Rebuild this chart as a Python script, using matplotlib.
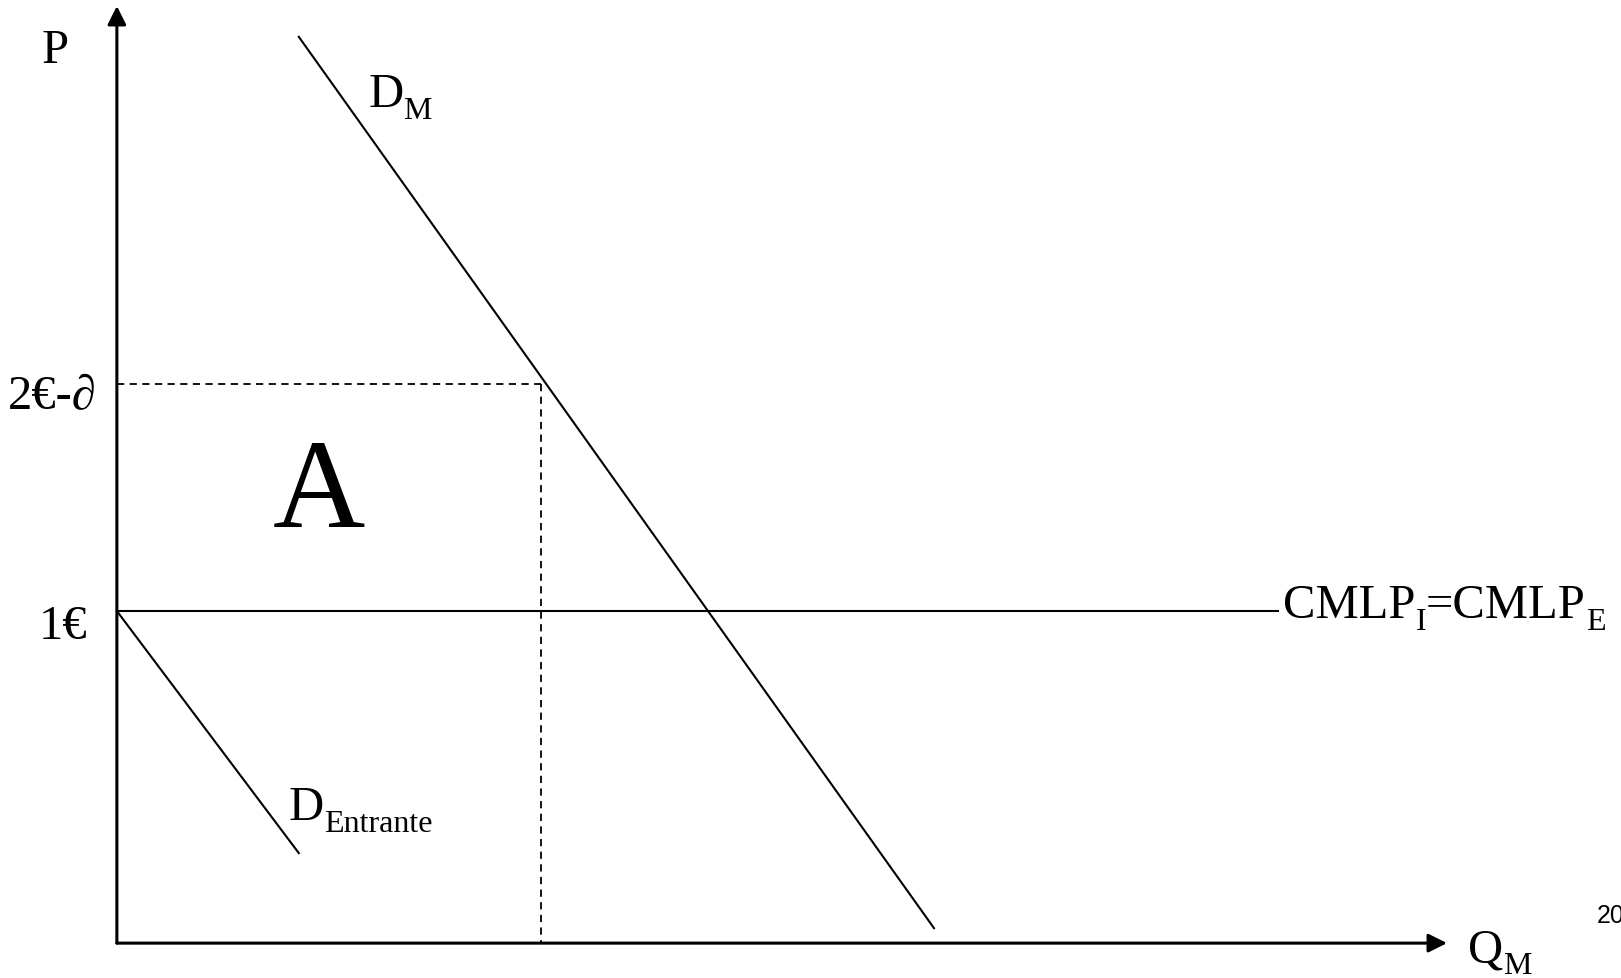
import matplotlib
matplotlib.use("Agg")
import matplotlib.pyplot as plt

plt.rcParams['font.family'] = ['Liberation Serif', 'DejaVu Serif']

# price in euros (1 unit = 1€), quantity on the same scale
price_cost = 1.0                 # CMLP_I = CMLP_E
price_limit = 1.684              # 2€-∂
q_limit = 1.277

dm_q = [0.548, 2.461]            # market demand D_M
dm_p = [2.729, 0.045]
de_q = [0.0, 0.548]              # entrant demand
de_p = [1.0, 0.271]
cost_q_end = 3.497

x_axis_end = 4.006
y_axis_end = 2.822

MAIN_FS = 35
SUB_FS = 23
SUB_DROP = 8.5   # points below main baseline


def sub_label(ax, x, y, parts):
    # parts: list of (text, is_subscript); pieces are chained left to right
    prev = None
    for txt, is_sub in parts:
        fs = SUB_FS if is_sub else MAIN_FS
        dy = -SUB_DROP if is_sub else 0
        if prev is None:
            prev = ax.annotate(txt, xy=(x, y), xycoords='data', xytext=(0, dy),
                               textcoords='offset points', fontsize=fs,
                               ha='left', va='baseline')
        else:
            prev = ax.annotate(txt, xy=(1, y), xycoords=(prev, 'data'), xytext=(0, dy),
                               textcoords='offset points', fontsize=fs,
                               ha='left', va='baseline')
    return prev


fig = plt.figure(figsize=(16.21, 9.79), dpi=100, facecolor='white')
ax = fig.add_axes([0, 0, 1, 1])
ax.set_xlim(-0.352, 4.530)
ax.set_ylim(-0.105, 2.843)
ax.axis('off')

# axes with arrows
arrow = dict(arrowstyle='-|>', lw=2.2, color='black', mutation_scale=28, shrinkA=0, shrinkB=0)
ax.annotate('', xy=(0, y_axis_end), xytext=(0, 0), arrowprops=arrow)
ax.annotate('', xy=(x_axis_end, 0), xytext=(0, 0), arrowprops=arrow)

# curves
ax.plot(dm_q, dm_p, color='black', lw=1.5)
ax.plot(de_q, de_p, color='black', lw=1.5)
ax.plot([0, cost_q_end], [price_cost, price_cost], color='black', lw=1.5)

# limit price dashed guides
ax.plot([0, q_limit], [price_limit, price_limit], color='black', lw=1.3, dashes=(4, 3))
ax.plot([q_limit, q_limit], [price_limit, 0], color='black', lw=1.3, dashes=(4, 3))

ax.text(-0.187, 2.654, 'P', fontsize=MAIN_FS, ha='center', va='baseline')
ax.text(-0.060, 1.611, '2€-∂', fontsize=MAIN_FS, ha='right', va='baseline')
ax.text(-0.090, 0.919, '1€', fontsize=MAIN_FS, ha='right', va='baseline')
ax.text(0.608, 1.256, 'A', fontsize=92, ha='center', va='baseline')

sub_label(ax, 0.757, 2.521, [('D', False), ('M', True)])
sub_label(ax, 0.518, 0.373, [('D', False), ('Entrante', True)])
sub_label(ax, 3.512, 0.982, [('CMLP', False), ('I', True), ('=CMLP', False), ('E', True)])
sub_label(ax, 4.069, -0.054, [('Q', False), ('M', True)])

ax.text(4.456, 0.063, '20', fontsize=18, family='Liberation Sans', ha='left', va='baseline')

fig.savefig('out.png', dpi=100, facecolor='white')
